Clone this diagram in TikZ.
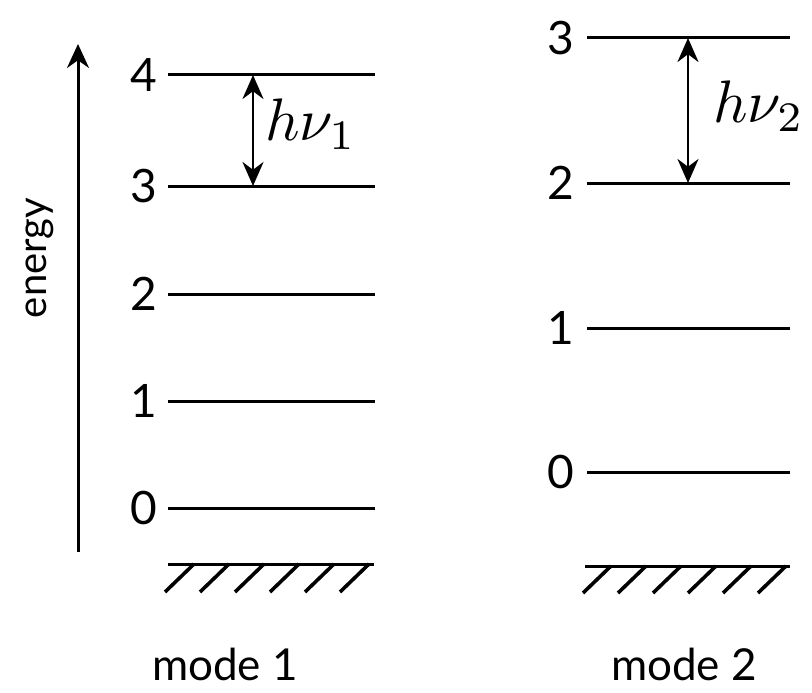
\documentclass[tikz,border=0pt]{standalone}
\usepackage{fontspec}
\setmainfont{Lato}
\usetikzlibrary{arrows.meta}
\begin{document}
\begin{tikzpicture}[x=1pt,y=-1pt,
  level/.style={line width=3pt},
  lab/.style={anchor=east,inner sep=0pt,font=\fontsize{46}{54}\selectfont},
  trans/.style={line width=2.8pt,{Stealth[length=24pt,width=21pt]}-{Stealth[length=24pt,width=21pt]}},
  ground/.style={line width=3pt},
  hatch/.style={line width=3.6pt},
  mlab/.style={inner sep=0pt,font=\fontsize{44}{52}\selectfont},
  hnu/.style={inner sep=0pt,scale=6}]
\useasboundingbox (0,0) rectangle (812,693);
% energy axis
\coordinate (ebot) at (78,552);
\coordinate (etop) at (78,44);
\draw[line width=3pt,-{Stealth[length=24pt,width=22pt]}] (ebot) -- (etop);
\node[rotate=90,inner sep=0pt,font=\fontsize{40}{48}\selectfont] (energy) at (40,258) {energy};
% mode 1 levels
\foreach \n/\y in {0/508,1/401,2/294,3/186,4/75}{
  \coordinate (a\n l) at (168,\y);
  \coordinate (a\n r) at (375,\y);
  \draw[level] (a\n l) -- (a\n r);
  \node[lab] (la\n) at (157,\y) {\n};
}
% mode 2 levels
\foreach \n/\y in {0/472,1/328,2/183,3/38}{
  \coordinate (b\n l) at (587,\y);
  \coordinate (b\n r) at (790,\y);
  \draw[level] (b\n l) -- (b\n r);
  \node[lab] (lb\n) at (574,\y) {\n};
}
% transitions
\coordinate (t1a) at (253,75);
\coordinate (t1b) at (253,186);
\draw[trans] (t1a) -- (t1b);
\node[hnu,anchor=west] (h1) at (264,124) {$h\nu_1$};
\coordinate (t2a) at (688,38);
\coordinate (t2b) at (688,183);
\draw[trans] (t2a) -- (t2b);
\node[hnu,anchor=west] (h2) at (712,106) {$h\nu_2$};
% grounds
\coordinate (g1l) at (168,564);
\coordinate (g1r) at (374,564);
\draw[ground] (g1l) -- (g1r);
\foreach \k in {0,...,5}{
  \draw[hatch] ({194+35*\k},564) -- ({165+35*\k},592);
}
\coordinate (g2l) at (585,566);
\coordinate (g2r) at (790,566);
\draw[ground] (g2l) -- (g2r);
\foreach \k in {0,...,5}{
  \draw[hatch] ({611+35*\k},566) -- ({583+35*\k},593);
}
% mode labels
\node[mlab] (m1) at (225,664) {mode 1};
\node[mlab] (m2) at (684,664) {mode 2};
\end{tikzpicture}
\end{document}
